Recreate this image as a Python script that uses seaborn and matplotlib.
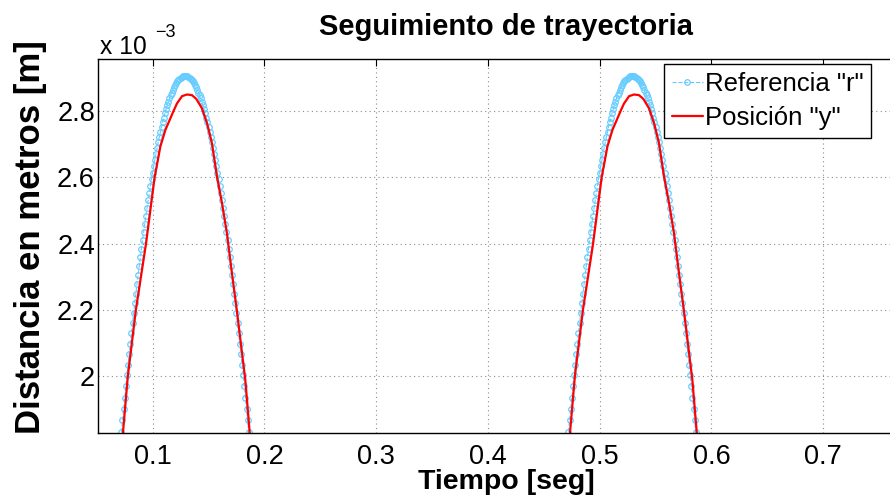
import numpy as np
import pandas as pd
import matplotlib
matplotlib.use("Agg")
import matplotlib.pyplot as plt
import seaborn as sns
from matplotlib.ticker import FuncFormatter

# Referencia "r" [mm], muestreada cada 1 ms alrededor de cada máximo
ref_mm = [
    1.762, 1.797, 1.833, 1.868, 1.902, 1.936, 1.970, 2.003, 2.035, 2.067,
    2.099, 2.130, 2.160, 2.190, 2.220, 2.249, 2.277, 2.305, 2.332, 2.359,
    2.385, 2.411, 2.436, 2.460, 2.484, 2.507, 2.530, 2.552, 2.573, 2.594,
    2.614, 2.633, 2.652, 2.670, 2.688, 2.705, 2.721, 2.737, 2.752, 2.766,
    2.779, 2.792, 2.804, 2.816, 2.827, 2.837, 2.847, 2.855, 2.863, 2.871,
    2.877, 2.883, 2.889, 2.893, 2.897, 2.900, 2.903, 2.905, 2.906,
    2.906,
    2.906, 2.905, 2.903, 2.900, 2.897, 2.893, 2.889, 2.883, 2.877, 2.871,
    2.863, 2.855, 2.847, 2.837, 2.827, 2.816, 2.804, 2.792, 2.779, 2.766,
    2.752, 2.737, 2.721, 2.705, 2.688, 2.670, 2.652, 2.633, 2.614, 2.594,
    2.573, 2.552, 2.530, 2.507, 2.484, 2.460, 2.436, 2.411, 2.385, 2.359,
    2.332, 2.305, 2.277, 2.249, 2.220, 2.190, 2.160, 2.130, 2.099, 2.067,
    2.035, 2.003, 1.970, 1.936, 1.902, 1.868, 1.833, 1.797, 1.762,
]
ref_inicio = [0.070, 0.470]   # primer instante de cada tramo [s]
ref_paso = 0.001              # periodo de muestreo [s]

# Posición "y" medida [mm]
pos_t1 = [0.0710, 0.0735, 0.0778, 0.0850, 0.0941, 0.1018, 0.1069, 0.1114,
          0.1188, 0.1218, 0.1263, 0.1308, 0.1352, 0.1390, 0.1442, 0.1487,
          0.1531, 0.1576, 0.1621, 0.1665, 0.1710, 0.1755, 0.1800, 0.1829,
          0.1868, 0.1880]
pos_mm1 = [1.740, 1.832, 2.000, 2.200, 2.400, 2.600, 2.692, 2.742,
           2.800, 2.822, 2.844, 2.849, 2.847, 2.836, 2.807, 2.762,
           2.702, 2.601, 2.521, 2.431, 2.310, 2.195, 2.070, 1.990,
           1.833, 1.785]
pos_t2 = [0.4710, 0.4735, 0.4778, 0.4850, 0.4941, 0.5018, 0.5069, 0.5114,
          0.5188, 0.5218, 0.5263, 0.5308, 0.5352, 0.5390, 0.5442, 0.5487,
          0.5531, 0.5576, 0.5621, 0.5665, 0.5710, 0.5755, 0.5800, 0.5829,
          0.5868, 0.5880]
pos_mm2 = [1.740, 1.832, 2.000, 2.200, 2.400, 2.600, 2.692, 2.742,
           2.800, 2.822, 2.844, 2.849, 2.847, 2.836, 2.807, 2.762,
           2.702, 2.601, 2.521, 2.431, 2.310, 2.195, 2.070, 1.990,
           1.833, 1.785]

x_ticks = [0.1, 0.2, 0.3, 0.4, 0.5, 0.6, 0.7]
y_ticks_mm = [2.0, 2.2, 2.4, 2.6, 2.8]

# Tablas en metros
n = len(ref_mm)
ref_df = pd.DataFrame({
    "t": np.concatenate([t0 + ref_paso * np.arange(n) for t0 in ref_inicio]),
    "r": np.tile(np.array(ref_mm), len(ref_inicio)) * 1e-3,
})
pos_df = pd.DataFrame({
    "t": pos_t1 + pos_t2,
    "y": np.array(pos_mm1 + pos_mm2) * 1e-3,
})

sns.set_theme(style="white")
plt.rcParams["font.family"] = ["Liberation Sans", "DejaVu Sans"]
plt.rcParams.update({
    "text.color": "black",
    "axes.labelcolor": "black",
    "xtick.color": "black",
    "ytick.color": "black",
    "axes.edgecolor": "black",
})

W, H = 890, 500
fig = plt.figure(figsize=(W / 100, H / 100), dpi=100)
ax_l, ax_r, ax_t, ax_b = 98.3, 923.8, 59.3, 432.5
ax = fig.add_axes([ax_l / W, 1 - ax_b / H, (ax_r - ax_l) / W, (ax_b - ax_t) / H])

azul = "#66ccff"
sns.lineplot(data=ref_df, x="t", y="r", ax=ax, sort=False, estimator=None,
             color=azul, linestyle="--", linewidth=0.8,
             marker="o", markersize=4.0, markerfacecolor="none",
             markeredgecolor=azul, markeredgewidth=0.9,
             label='Referencia "r"')
sns.lineplot(data=pos_df, x="t", y="y", ax=ax, sort=False, estimator=None,
             color="red", linewidth=1.6, label='Posición "y"')

ax.set_xlim(0.0514, 0.79)
ax.set_ylim(1.831e-3, 2.955e-3)
ax.set_xticks(x_ticks)
ax.set_yticks([v * 1e-3 for v in y_ticks_mm])
ax.xaxis.set_major_formatter(FuncFormatter(lambda v, _: f"{v:g}"))
ax.yaxis.set_major_formatter(FuncFormatter(lambda v, _: f"{v * 1e3:g}"))

ax.grid(True, linestyle=(0, (1, 3)), color="#8c8c8c", linewidth=0.8)
ax.tick_params(direction="in", length=5, width=0.8, top=True, right=True,
               labelsize=19.5, colors="black")
ax.tick_params(axis="x", pad=8.5)
ax.tick_params(axis="y", pad=2.4)
for s in ax.spines.values():
    s.set_visible(True)
    s.set_color("black")
    s.set_linewidth(1.0)

ax.set_title("Seguimiento de trayectoria", fontsize=21, fontweight="bold",
             pad=17.5, x=0.494, color="black")
ax.set_xlabel("Tiempo [seg]", fontsize=20.5, fontweight="bold")
ax.xaxis.set_label_coords(0.494, -0.0975)
ax.set_ylabel("Distancia en metros [m]", fontsize=25, fontweight="bold")
ax.yaxis.set_label_coords(-0.0617, 0.525)

# Multiplicador del eje vertical
fig.text(100 / W, 1 - 54.3 / H, "x 10", fontsize=17.7, va="baseline", ha="left")
fig.text(155 / W, 1 - 37 / H, "\u22123", fontsize=13, va="baseline", ha="left")

leg = ax.legend(loc="upper left", bbox_to_anchor=(664 / W, 1 - 64 / H),
                bbox_transform=fig.transFigure, borderaxespad=0,
                fontsize=18.5, frameon=True, fancybox=False, framealpha=1,
                edgecolor="black", borderpad=0.3, handlelength=1.2,
                handletextpad=0.08, labelspacing=0.4)
leg.get_frame().set_linewidth(1.0)

fig.savefig("out.png", dpi=100)
